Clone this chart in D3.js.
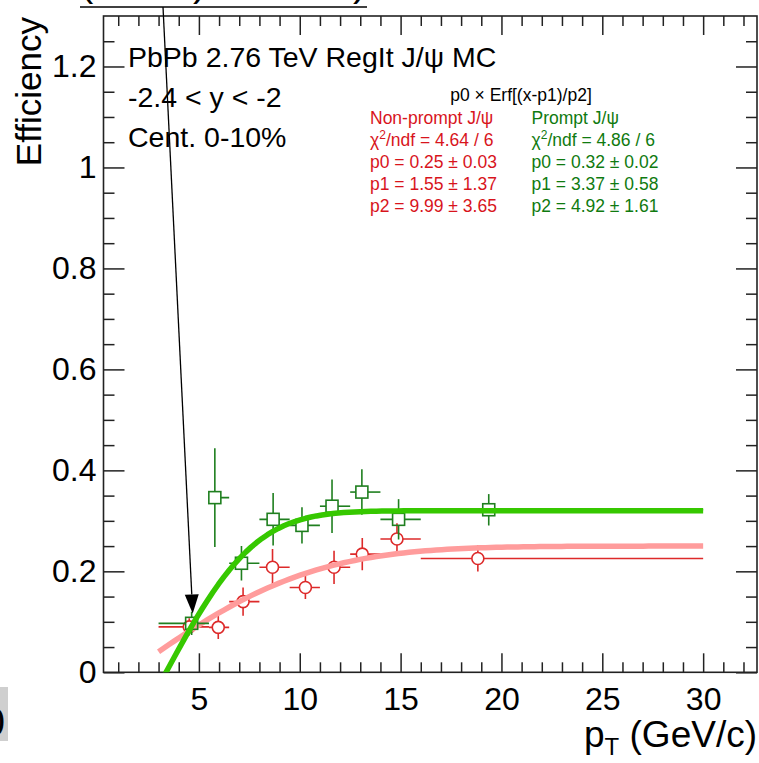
<!DOCTYPE html>
<html><head><meta charset="utf-8">
<script src="https://cdn.jsdelivr.net/npm/d3@7"></script>
<style>
html,body{margin:0;padding:0;background:#fff;}
svg{display:block;font-family:"Liberation Sans",Arial,Helvetica,sans-serif;}
</style>
</head><body>
<svg id="c" width="759" height="763"></svg>
<script>
// ---------------- data ----------------
const xMajorTicks = [5, 10, 15, 20, 25, 30];
const xMinorTicks = d3.range(1, 33, 1);
const yMajorTicks = [0, 0.2, 0.4, 0.6, 0.8, 1, 1.2];
const yTickLabels = ["0", "0.2", "0.4", "0.6", "0.8", "1", "1.2"];
const yMinorTicks = d3.range(0, 26).map(i => +(i * 0.05).toFixed(2));

const binLo = [3, 5.5, 6.5, 8, 9.5, 11, 12.5, 14, 16];
const binHi = [5.5, 6.5, 8, 9.5, 11, 12.5, 14, 16, 30];

const promptX   = [4.64, 5.79, 7.11, 8.68, 10.11, 11.6, 13.08, 14.9, 19.37];
const promptY   = [0.097, 0.346, 0.216, 0.303, 0.291, 0.329, 0.357, 0.303, 0.322];
const promptErr = [0.023, 0.098, 0.034, 0.052, 0.036, 0.053, 0.045, 0.040, 0.031];

const nonPromptX   = [4.52, 5.96, 7.19, 8.65, 10.28, 11.7, 13.1, 14.82, 18.83];
const nonPromptY   = [0.090, 0.089, 0.140, 0.208, 0.168, 0.208, 0.234, 0.264, 0.2255];
const nonPromptErr = [0.017, 0.023, 0.028, 0.036, 0.023, 0.033, 0.032, 0.031, 0.026];

// fit p0 * Erf((x-p1)/p2), parameters as printed on the chart
const fitNonPrompt = [0.25, 1.55, 9.99];
const fitPrompt    = [0.32, 3.37, 4.92];
const fitRange = [3, 30];

const infoLines = ["PbPb 2.76 TeV RegIt J/\u03c8 MC", "-2.4 < y < -2", "Cent. 0-10%"];
const fitTitle = "p0 \u00d7 Erf[(x-p1)/p2]";
const nonPromptLegend = ["Non-prompt J/\u03c8", ["\u03c7", "2", "/ndf = 4.64 / 6"], "p0 = 0.25 \u00b1 0.03", "p1 = 1.55 \u00b1 1.37", "p2 = 9.99 \u00b1 3.65"];
const promptLegend    = ["Prompt J/\u03c8", ["\u03c7", "2", "/ndf = 4.86 / 6"], "p0 = 0.32 \u00b1 0.02", "p1 = 3.37 \u00b1 0.58", "p2 = 4.92 \u00b1 1.61"];

// ---------------- layout ----------------
const L = 103.5, R = 757, T = 16, B = 672.3;
const x = d3.scaleLinear().domain([0.27, 32.67]).range([L, R]);
const y = d3.scaleLinear().domain([0, 1.3]).range([B, T]);

const svg = d3.select("#c");
const col = {
  greenMk: "#1f7f1f", redMk: "#dd2a2a",
  greenFit: "#36c800", redFit: "#ff9c9c",
  greenTxt: "#0f7a0f", redTxt: "#d8141c", axis: "#222"
};

svg.append("defs").append("clipPath").attr("id", "frame")
  .append("rect").attr("x", L).attr("y", T).attr("width", R - L).attr("height", B - T);

// ---------------- axes / ticks ----------------
function styleAxis(g) {
  g.select(".domain").remove();
  g.selectAll(".tick line").attr("stroke", col.axis).attr("stroke-width", 1.5);
  g.selectAll("text").attr("fill", "#000");
}
svg.append("g").attr("transform", `translate(0,${B})`)
  .call(d3.axisBottom(x).tickValues(xMajorTicks).tickSize(-19).tickPadding(15).tickFormat(d3.format("d")))
  .call(styleAxis)
  .call(g => g.selectAll("text").attr("font-size", 32).attr("font-family", "Liberation Sans, Arial, sans-serif"));
svg.append("g").attr("transform", `translate(0,${B})`)
  .call(d3.axisBottom(x).tickValues(xMinorTicks.filter(v => v % 5 !== 0)).tickSize(-10).tickFormat(""))
  .call(styleAxis);
svg.append("g").attr("transform", `translate(0,${T})`)
  .call(d3.axisTop(x).tickValues(xMajorTicks).tickSize(-19).tickFormat(""))
  .call(styleAxis);
svg.append("g").attr("transform", `translate(0,${T})`)
  .call(d3.axisTop(x).tickValues(xMinorTicks.filter(v => v % 5 !== 0)).tickSize(-10).tickFormat(""))
  .call(styleAxis);
svg.append("g").attr("transform", `translate(${L},0)`)
  .call(d3.axisLeft(y).tickValues(yMajorTicks).tickSize(-21).tickPadding(7).tickFormat((d, i) => yTickLabels[i]))
  .call(styleAxis)
  .call(g => g.selectAll("text").attr("font-size", 32).attr("font-family", "Liberation Sans, Arial, sans-serif"));
const yMinorOnly = yMinorTicks.filter(v => Math.abs(v / 0.2 - Math.round(v / 0.2)) > 1e-6);
svg.append("g").attr("transform", `translate(${L},0)`)
  .call(d3.axisLeft(y).tickValues(yMinorOnly).tickSize(-11).tickFormat(""))
  .call(styleAxis);
svg.append("g").attr("transform", `translate(${R},0)`)
  .call(d3.axisRight(y).tickValues(yMajorTicks).tickSize(-21).tickFormat(""))
  .call(styleAxis);
svg.append("g").attr("transform", `translate(${R},0)`)
  .call(d3.axisRight(y).tickValues(yMinorOnly).tickSize(-11).tickFormat(""))
  .call(styleAxis);

svg.append("rect").attr("x", L).attr("y", T).attr("width", R - L).attr("height", B - T)
  .attr("fill", "none").attr("stroke", col.axis).attr("stroke-width", 1.6);

// axis titles
svg.append("text").attr("transform", `translate(41,${T + 1}) rotate(-90)`)
  .attr("text-anchor", "end").attr("font-size", 35).text("Efficiency");
const xt = svg.append("text").attr("x", R).attr("y", 747).attr("text-anchor", "end").attr("font-size", 37);
xt.append("tspan").text("p");
xt.append("tspan").attr("font-size", 24).attr("dy", 8).text("T");
xt.append("tspan").attr("dy", -8).text(" (GeV/c)");

// ---------------- data marks ----------------
const R_MK = 6;
function drawErrors(g, xs, ys, es, color) {
  xs.forEach((xv, i) => {
    const cx = x(xv), cy = y(ys[i]);
    const top = y(ys[i] + es[i]), bot = y(ys[i] - es[i]);
    const lft = x(binLo[i]), rgt = x(binHi[i]);
    const segs = [];
    if (cy - top > R_MK) segs.push([cx, top, cx, cy - R_MK]);
    if (bot - cy > R_MK) segs.push([cx, cy + R_MK, cx, bot]);
    if (cx - lft > R_MK) segs.push([lft, cy, cx - R_MK, cy]);
    if (rgt - cx > R_MK) segs.push([cx + R_MK, cy, rgt, cy]);
    segs.forEach(s => g.append("line").attr("x1", s[0]).attr("y1", s[1]).attr("x2", s[2]).attr("y2", s[3])
      .attr("stroke", color).attr("stroke-width", 1.6));
  });
}
function erf(v) {
  const s = Math.sign(v); v = Math.abs(v);
  const t = 1 / (1 + 0.3275911 * v);
  const p = t * (0.254829592 + t * (-0.284496736 + t * (1.421413741 + t * (-1.453152027 + t * 1.061405429))));
  return s * (1 - p * Math.exp(-v * v));
}
function drawFit(params, color) {
  const pts = d3.range(0, 101).map(i => {
    const xv = fitRange[0] + (fitRange[1] - fitRange[0]) * i / 100;
    return [xv, params[0] * erf((xv - params[1]) / params[2])];
  });
  svg.append("path").attr("clip-path", "url(#frame)")
    .attr("d", d3.line().x(d => x(d[0])).y(d => y(d[1]))(pts))
    .attr("fill", "none").attr("stroke", color).attr("stroke-width", 5.5).attr("stroke-linejoin", "round");
}

const gNP = svg.append("g").attr("clip-path", "url(#frame)");
drawErrors(gNP, nonPromptX, nonPromptY, nonPromptErr, col.redMk);
gNP.selectAll("circle").data(nonPromptX).join("circle")
  .attr("cx", d => x(d)).attr("cy", (d, i) => y(nonPromptY[i])).attr("r", R_MK)
  .attr("fill", "none").attr("stroke", col.redMk).attr("stroke-width", 1.6);
drawFit(fitNonPrompt, col.redFit);

const gP = svg.append("g").attr("clip-path", "url(#frame)");
drawErrors(gP, promptX, promptY, promptErr, col.greenMk);
gP.selectAll("rect").data(promptX).join("rect")
  .attr("x", d => x(d) - R_MK).attr("y", (d, i) => y(promptY[i]) - R_MK)
  .attr("width", 2 * R_MK).attr("height", 2 * R_MK)
  .attr("fill", "none").attr("stroke", col.greenMk).attr("stroke-width", 1.6);
drawFit(fitPrompt, col.greenFit);

// ---------------- texts ----------------
infoLines.forEach((t, i) => svg.append("text").attr("x", 128).attr("y", 67 + i * 40)
  .attr("font-size", 28.5).attr("fill", "#000").text(t));

svg.append("text").attr("x", 521).attr("y", 101).attr("text-anchor", "middle")
  .attr("font-size", 17.5).attr("fill", "#000").text(fitTitle);
function legendCol(lines, x0, color) {
  lines.forEach((t, i) => {
    const el = svg.append("text").attr("x", x0).attr("y", 124 + i * 22)
      .attr("font-size", 17.5).attr("fill", color);
    if (Array.isArray(t)) {
      el.append("tspan").text(t[0]);
      el.append("tspan").attr("font-size", 12).attr("dy", -7).text(t[1]);
      el.append("tspan").attr("dy", 7).text(t[2]);
    } else el.text(t);
  });
}
legendCol(nonPromptLegend, 370, col.redTxt);
legendCol(promptLegend, 531.5, col.greenTxt);

// ---------------- arrow + cut-off annotation ----------------
svg.append("text").attr("x", 80).attr("y", -4).attr("font-size", 40).text("(");
svg.append("text").attr("x", 193).attr("y", -4).attr("font-size", 40).text(")");
svg.append("text").attr("x", 353).attr("y", -4).attr("font-size", 40).text(")");
svg.append("line").attr("x1", 80).attr("y1", 7).attr("x2", 367).attr("y2", 7)
  .attr("stroke", "#000").attr("stroke-width", 1.6);
const ax0 = 163, ay0 = 7, ax1 = 192.7, ay1 = 613.5;
const ang = Math.atan2(ay1 - ay0, ax1 - ax0);
const hl = 19, hw = 7;
const bx = ax1 - hl * Math.cos(ang), by = ay1 - hl * Math.sin(ang);
svg.append("line").attr("x1", ax0).attr("y1", ay0).attr("x2", bx).attr("y2", by)
  .attr("stroke", "#000").attr("stroke-width", 1.3);
svg.append("path").attr("d", `M${ax1},${ay1} L${bx - hw * Math.sin(ang)},${by + hw * Math.cos(ang)} L${bx + hw * Math.sin(ang)},${by - hw * Math.cos(ang)} Z`)
  .attr("fill", "#000");

// bottom-left fragment
svg.append("rect").attr("x", 0).attr("y", 687).attr("width", 8).attr("height", 54).attr("fill", "#cfcfcf");
svg.append("text").attr("x", 5).attr("y", 736).attr("text-anchor", "end").attr("font-size", 40).text("0");
</script>
</body></html>
